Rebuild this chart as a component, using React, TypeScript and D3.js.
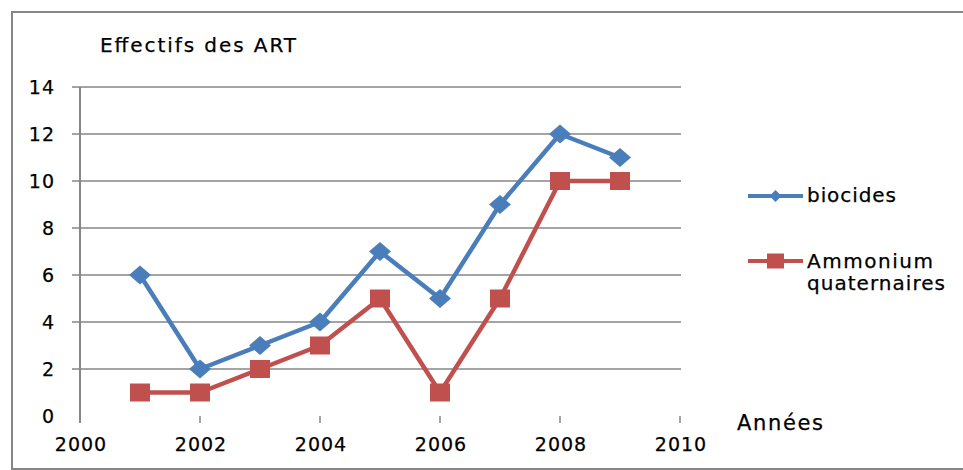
import React from "react";
import * as d3 from "d3";

const years = [2001, 2002, 2003, 2004, 2005, 2006, 2007, 2008, 2009];
const biocides = [6, 2, 3, 4, 7, 5, 9, 12, 11];
const ammonium = [1, 1, 2, 3, 5, 1, 5, 10, 10];
const xTicks = [2000, 2002, 2004, 2006, 2008, 2010];
const yTicks = [0, 2, 4, 6, 8, 10, 12, 14];
const seriesNames = ["biocides", "Ammonium", "quaternaires"];
const titleText = "Effectifs des ART";
const xAxisTitle = "Années";

const BLUE = "#4A7EBB";
const RED = "#C0504D";
const GRID = "#868686";
const FONT = "'DejaVu Sans', Verdana, sans-serif";

export default function App() {
  const x = d3.scaleLinear().domain([2000, 2010]).range([80, 680]);
  const y = d3.scaleLinear().domain([0, 14]).range([416, 87]);

  const line = d3
    .line<number>()
    .x((_, i) => x(years[i]))
    .y((d) => y(d));

  const diamond = (cx: number, cy: number, w: number, h: number) =>
    `M${cx},${cy - h / 2}L${cx + w / 2},${cy}L${cx},${cy + h / 2}L${cx - w / 2},${cy}Z`;

  const textStyle = { stroke: "#000", strokeWidth: 0.25 } as React.CSSProperties;

  return (
    <svg
      width={963}
      height={470}
      style={{ position: "absolute", left: 0, top: 0, display: "block", background: "#fff" }}
      fontFamily={FONT}
    >
      <rect x={0} y={0} width={963} height={470} fill="#fff" />
      {/* outer border */}
      <rect x={12} y={12} width={970} height={457} fill="none" stroke={GRID} strokeWidth={2} />

      {/* title */}
      <text x={100} y={52} fontSize={20} fill="#000" style={textStyle} textLength={196} lengthAdjust="spacing">
        {titleText}
      </text>

      {/* gridlines */}
      {yTicks
        .filter((t) => t > 0)
        .map((t) => (
          <line key={"g" + t} x1={72} x2={681} y1={y(t)} y2={y(t)} stroke={GRID} strokeWidth={1.5} />
        ))}

      {/* y axis */}
      <line x1={80} x2={80} y1={y(14)} y2={423} stroke={GRID} strokeWidth={2} />
      {yTicks.map((t) => (
        <text
          key={"yl" + t}
          x={55}
          y={y(t) + 7}
          fontSize={19}
          textAnchor="end"
          letterSpacing={1}
          fill="#000"
          style={textStyle}
        >
          {t}
        </text>
      ))}

      {/* x ticks */}
      {xTicks
        .filter((t) => t > 2000)
        .map((t) => (
          <line key={"xt" + t} x1={x(t)} x2={x(t)} y1={416} y2={423} stroke={GRID} strokeWidth={1.5} />
        ))}
      {xTicks.map((t) => (
        <text
          key={"xl" + t}
          x={x(t) + 1}
          y={451}
          fontSize={19}
          textAnchor="middle"
          letterSpacing={1}
          fill="#000"
          style={textStyle}
        >
          {t}
        </text>
      ))}

      {/* x axis title */}
      <text x={737} y={430} fontSize={21} fill="#000" style={textStyle} textLength={86} lengthAdjust="spacing">
        {xAxisTitle}
      </text>

      {/* ammonium series */}
      <path d={line(ammonium) || ""} fill="none" stroke={RED} strokeWidth={4.5} strokeLinejoin="round" />
      {ammonium.map((v, i) => (
        <rect key={"a" + i} x={x(years[i]) - 10} y={y(v) - 9} width={20} height={18} fill={RED} />
      ))}

      {/* biocides series */}
      <path d={line(biocides) || ""} fill="none" stroke={BLUE} strokeWidth={4.5} strokeLinejoin="round" />
      {biocides.map((v, i) => (
        <path key={"b" + i} d={diamond(x(years[i]), y(v), 22, 19)} fill={BLUE} />
      ))}

      {/* legend */}
      <line x1={748} x2={803} y1={196} y2={196} stroke={BLUE} strokeWidth={4} />
      <path d={diamond(775.5, 196, 12, 12)} fill={BLUE} />
      <text x={807} y={202} fontSize={20} fill="#000" style={textStyle} textLength={89} lengthAdjust="spacing">
        {seriesNames[0]}
      </text>

      <line x1={748} x2={803} y1={261} y2={261} stroke={RED} strokeWidth={4} />
      <rect x={767} y={253.5} width={17} height={15} fill={RED} />
      <text x={807} y={268} fontSize={20} fill="#000" style={textStyle} textLength={126} lengthAdjust="spacing">
        {seriesNames[1]}
      </text>
      <text x={807} y={290} fontSize={20} fill="#000" style={textStyle} textLength={138} lengthAdjust="spacing">
        {seriesNames[2]}
      </text>
    </svg>
  );
}
